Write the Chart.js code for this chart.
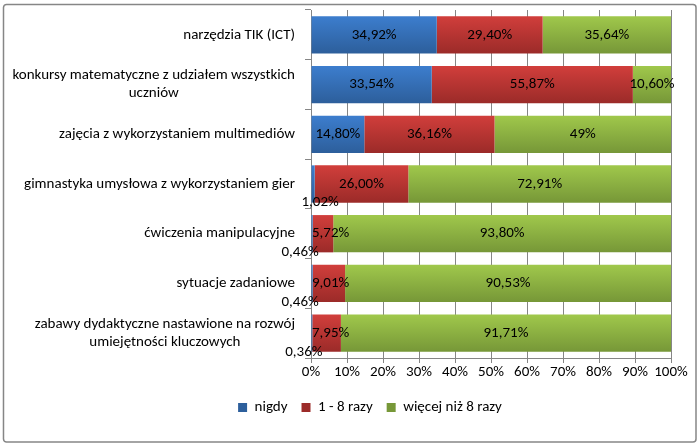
<!DOCTYPE html>
<html>
<head>
<meta charset="utf-8">
<script src="https://cdn.jsdelivr.net/npm/chart.js@4"></script>
<style>
  html, body { margin: 0; padding: 0; background: #fff; }
</style>
</head>
<body>
<canvas id="chart" width="700" height="448"></canvas>
<script>
const categories = [
    ['narzędzia TIK (ICT)'],
    ['konkursy matematyczne z udziałem wszystkich', 'uczniów'],
    ['zajęcia z wykorzystaniem multimediów'],
    ['gimnastyka umysłowa z wykorzystaniem gier'],
    ['ćwiczenia manipulacyjne'],
    ['sytuacje zadaniowe'],
    ['zabawy dydaktyczne nastawione na rozwój', 'umiejętności kluczowych']
];
const nigdy = [34.92, 33.54, 14.80, 1.02, 0.46, 0.46, 0.36];
const razy1do8 = [29.40, 55.87, 36.16, 26.00, 5.72, 9.01, 7.95];
const wiecej = [35.64, 10.60, 49, 72.91, 93.80, 90.53, 91.71];
const wiecejDecimals = [2, 2, 0, 2, 2, 2, 2];
const xTicks = [0, 10, 20, 30, 40, 50, 60, 70, 80, 90, 100];

const FONT = "Carlito, Lato, 'Open Sans', sans-serif";
const SIZE = 15;
Chart.defaults.font.family = FONT;
Chart.defaults.font.size = SIZE;
Chart.defaults.color = '#000';

const totals = nigdy.map((v, i) => v + razy1do8[i] + wiecej[i]);
const norm = arr => arr.map((v, i) => v / totals[i] * 100);

function grad(top, bottom) {
    return c => {
        const ch = c.chart;
        const s = ch.scales.y;
        if (!ch.chartArea || !s || c.dataIndex === undefined) return bottom;
        const y = s.getPixelForValue(c.dataIndex);
        const g = ch.ctx.createLinearGradient(0, y - 18, 0, y + 18);
        g.addColorStop(0, top);
        g.addColorStop(1, bottom);
        return g;
    };
}

function fmt(v, dec) {
    return v.toFixed(dec).replace('.', ',') + '%';
}

const raw = [nigdy, razy1do8, wiecej];
const decs = [nigdy.map(() => 2), razy1do8.map(() => 2), wiecejDecimals];
// small values sit under the bar, Excel moved them by hand
const smallDx = { 3: 7, 4: -12, 5: -12, 6: -8 };

const decor = {
    id: 'decor',
    beforeDraw(chart) {
        const ctx = chart.ctx;
        ctx.save();
        ctx.strokeStyle = '#868686';
        ctx.lineWidth = 1.5;
        ctx.beginPath();
        ctx.roundRect(3.5, 4.5, 692.5, 437.5, 3);
        ctx.stroke();
        ctx.restore();
    },
    afterDatasetsDraw(chart) {
        const ctx = chart.ctx;
        const area = chart.chartArea;
        ctx.save();
        ctx.font = SIZE + 'px ' + FONT;
        ctx.fillStyle = '#000';
        ctx.textBaseline = 'middle';
        ctx.textAlign = 'center';
        chart.data.datasets.forEach((ds, d) => {
            chart.getDatasetMeta(d).data.forEach((bar, i) => {
                const v = raw[d][i];
                const txt = fmt(v, decs[d][i]);
                const w = ctx.measureText(txt).width;
                const left = Math.min(bar.x, bar.base);
                const right = Math.max(bar.x, bar.base);
                let x = (left + right) / 2;
                let y = bar.y;
                if (v < 2) {
                    x += smallDx[i] || 0;
                    y = bar.y + bar.height / 2;
                } else {
                    x = Math.max(x, area.left + w / 2 + 1);
                }
                ctx.fillText(txt, x, y);
            });
        });
        ctx.restore();
    },
    afterDraw(chart) {
        const ctx = chart.ctx;
        const s = chart.scales.y;
        const rightEdge = chart.chartArea.left - 16;
        ctx.save();
        ctx.font = SIZE + 'px ' + FONT;
        ctx.fillStyle = '#000';
        ctx.textBaseline = 'middle';
        ctx.textAlign = 'center';
        categories.forEach((lines, i) => {
            const yc = s.getPixelForValue(i);
            const bw = Math.max(...lines.map(t => ctx.measureText(t).width));
            const cx = rightEdge - bw / 2;
            const lh = 18;
            lines.forEach((t, k) => {
                ctx.fillText(t, cx, yc + (k - (lines.length - 1) / 2) * lh);
            });
        });
        ctx.restore();
    }
};

new Chart(document.getElementById('chart'), {
    type: 'bar',
    data: {
        labels: categories,
        datasets: [
            { label: 'nigdy', data: norm(nigdy), backgroundColor: grad('#3c7dcd', '#2d5f9c') },
            { label: '1 - 8 razy', data: norm(razy1do8), backgroundColor: grad('#d03e3b', '#9c2b29') },
            { label: 'więcej niż 8 razy', data: norm(wiecej), backgroundColor: grad('#9fc74b', '#779838') }
        ]
    },
    options: {
        indexAxis: 'y',
        responsive: false,
        animation: false,
        layout: { padding: { left: 69, right: 29, top: 10, bottom: 23 } },
        datasets: { bar: { barPercentage: 0.75, categoryPercentage: 1 } },
        scales: {
            x: {
                stacked: true,
                min: 0,
                max: 100,
                afterBuildTicks: s => { s.ticks = xTicks.map(v => ({ value: v })); },
                afterFit: s => { s.height += 5; },
                grid: { color: '#868686', tickLength: 5 },
                border: { color: '#868686' },
                ticks: { callback: v => v + '%', padding: 0, maxRotation: 0, autoSkip: false }
            },
            y: {
                stacked: true,
                grid: { drawOnChartArea: false, color: '#868686', tickLength: 6 },
                border: { color: '#868686' },
                ticks: { display: false },
                afterFit: s => { s.width = 242; }
            }
        },
        plugins: {
            legend: {
                position: 'bottom',
                labels: { boxWidth: 9, boxHeight: 9, padding: 14, color: '#000' }
            },
            tooltip: { enabled: false }
        }
    },
    plugins: [decor]
});
</script>
</body>
</html>
